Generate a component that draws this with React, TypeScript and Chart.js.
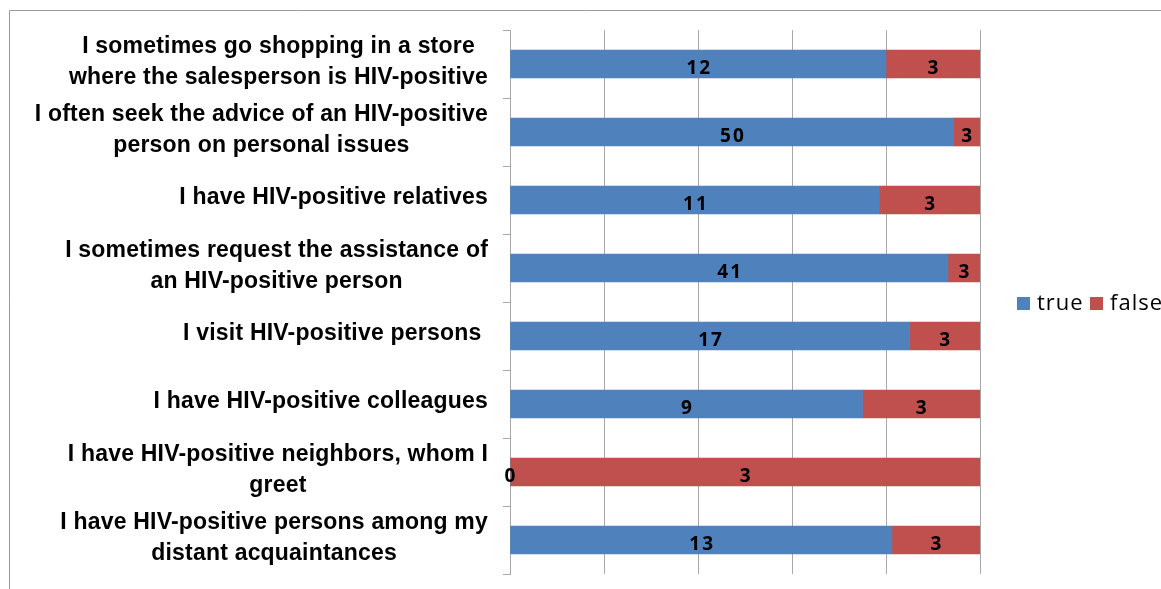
import React, { useEffect, useRef } from "react";
import { Chart, registerables } from "chart.js";
Chart.register(...registerables);

const categories: string[][] = [
  ["I sometimes go shopping in a store", "where the salesperson is HIV-positive"],
  ["I often seek the advice of an HIV-positive", "person on personal issues"],
  ["I have HIV-positive relatives"],
  ["I sometimes request the assistance of", "an HIV-positive person"],
  ["I visit HIV-positive persons "],
  ["I have HIV-positive colleagues"],
  ["I have HIV-positive neighbors, whom I", "greet"],
  ["I have HIV-positive persons among my", "distant acquaintances"],
];
const trueCounts = [12, 50, 11, 41, 17, 9, 0, 13];
const falseCounts = [3, 3, 3, 3, 3, 3, 3, 3];
const seriesNames = ["true", "false"];
const seriesColors = ["#4f81bd", "#c0504d"];
const xTickStep = 20;

const GRID = "#a8a8a8";

export default function App() {
  const ref = useRef<HTMLCanvasElement | null>(null);
  useEffect(() => {
    const canvas = ref.current!;
    const totals = trueCounts.map((t, i) => t + falseCounts[i]);
    const truePct = trueCounts.map((t, i) => (t / totals[i]) * 100);
    const falsePct = falseCounts.map((f, i) => (f / totals[i]) * 100);
    const counts = [trueCounts, falseCounts];

    const framePlugin = {
      id: "frame",
      beforeDraw(chart: any) {
        const ctx = chart.ctx;
        ctx.save();
        ctx.fillStyle = "#ffffff";
        ctx.fillRect(0, 0, chart.width, chart.height);
        ctx.strokeStyle = "#9a9a9a";
        ctx.lineWidth = 1;
        ctx.beginPath();
        ctx.moveTo(9.5, chart.height);
        ctx.lineTo(9.5, 10.5);
        ctx.lineTo(chart.width, 10.5);
        ctx.stroke();
        ctx.restore();
      },
    };

    const labelPlugin = {
      id: "catLabels",
      afterDraw(chart: any) {
        const ctx = chart.ctx;
        const y = chart.scales.y;
        ctx.save();
        ctx.font = "bold 23px 'Liberation Sans', Arial, sans-serif";
        (ctx as any).letterSpacing = "0.2px";
        ctx.fillStyle = "#000000";
        ctx.textBaseline = "middle";
        ctx.textAlign = "center";
        const right = 488;
        const lh = 31;
        categories.forEach((lines, i) => {
          const cy = y.getPixelForValue(i) - 2;
          const maxW = Math.max(...lines.map((l) => ctx.measureText(l).width));
          const cx = right - maxW / 2;
          const startY = cy - ((lines.length - 1) * lh) / 2;
          lines.forEach((l, k) => ctx.fillText(l, cx, startY + k * lh));
        });
        ctx.restore();
      },
    };

    const valuePlugin = {
      id: "values",
      afterDatasetsDraw(chart: any) {
        const ctx = chart.ctx;
        ctx.save();
        ctx.font = "bold 19px 'Open Sans', sans-serif";
        (ctx as any).letterSpacing = "2px";
        ctx.fillStyle = "#000000";
        ctx.textAlign = "center";
        ctx.textBaseline = "middle";
        chart.data.datasets.forEach((_: any, di: number) => {
          const meta = chart.getDatasetMeta(di);
          meta.data.forEach((el: any, i: number) => {
            const cx = (el.x + el.base) / 2 + 1;
            ctx.fillText(String(counts[di][i]), cx, el.y + 5);
          });
        });
        ctx.restore();
      },
    };

    const legendPlugin = {
      id: "customLegend",
      afterDraw(chart: any) {
        const ctx = chart.ctx;
        const area = chart.chartArea;
        const cy = (area.top + area.bottom) / 2 + 1;
        ctx.save();
        ctx.font = "22px 'Open Sans', sans-serif";
        (ctx as any).letterSpacing = "1px";
        ctx.textBaseline = "middle";
        ctx.textAlign = "left";
        let x = 1017;
        seriesNames.forEach((name, i) => {
          ctx.fillStyle = seriesColors[i];
          ctx.fillRect(x, cy - 6, 13, 13);
          ctx.fillStyle = "#000000";
          ctx.fillText(name, x + 20, cy + 1);
          x += 73;
        });
        ctx.restore();
      },
    };

    const chart = new Chart(canvas, {
      type: "bar",
      data: {
        labels: categories.map((c) => c.join(" ")),
        datasets: [
          { label: seriesNames[0], data: truePct, backgroundColor: seriesColors[0], barThickness: 28 },
          { label: seriesNames[1], data: falsePct, backgroundColor: seriesColors[1], barThickness: 28 },
        ],
      },
      options: {
        indexAxis: "y",
        responsive: false,
        animation: false,
        layout: { padding: { left: 0, right: 181, top: 30, bottom: 15 } },
        plugins: { legend: { display: false }, tooltip: { enabled: false } },
        scales: {
          x: {
            stacked: true,
            min: 0,
            max: 100,
            ticks: { display: false, stepSize: xTickStep },
            grid: { color: GRID, drawTicks: false },
            border: { display: false },
            afterFit(s: any) {
              s.height = 0;
            },
          },
          y: {
            stacked: true,
            offset: true,
            ticks: { display: false },
            grid: { drawOnChartArea: false, drawTicks: true, tickLength: 7, color: GRID, offset: true },
            border: { display: true, color: GRID },
            afterFit(s: any) {
              s.width = 510;
            },
          },
        },
      } as any,
      plugins: [framePlugin, valuePlugin, labelPlugin, legendPlugin],
    });
    return () => chart.destroy();
  }, []);

  return (
    <div style={{ position: "fixed", left: 0, top: 0, width: 1161, height: 589, background: "#fff" }}>
      <canvas ref={ref} width={1161} height={589} style={{ display: "block" }} />
    </div>
  );
}
